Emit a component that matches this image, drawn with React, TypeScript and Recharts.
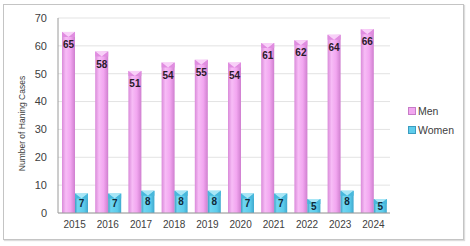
import React from "react";
import { BarChart, Bar, XAxis, YAxis, CartesianGrid, LabelList } from "recharts";

const years = ["2015", "2016", "2017", "2018", "2019", "2020", "2021", "2022", "2023", "2024"];
const men = [65, 58, 51, 54, 55, 54, 61, 62, 64, 66];
const women = [7, 7, 8, 8, 8, 7, 7, 5, 8, 5];
const yTicks = [0, 10, 20, 30, 40, 50, 60, 70];
const seriesNames = ["Men", "Women"];
const seriesColors = ["#f2a8f0", "#5fcdec"];
const yTitle = "Number of Haning Cases";

const data = years.map((y, i) => ({ year: y, Men: men[i], Women: women[i] }));

const makeShape = (gradId: string, capLight: string, capDark: string) => (props: any) => {
  const { x, y, width, height } = props;
  if (height <= 0) return null;
  const cap = Math.min(5, height);
  return (
    <g>
      <rect x={x} y={y} width={width} height={height} fill={`url(#${gradId})`} />
      <polygon
        points={`${x},${y} ${x + width},${y} ${x + width / 2},${y + cap}`}
        fill={capLight}
      />
      <polygon points={`${x},${y} ${x + width / 2},${y + cap} ${x},${y + cap}`} fill={capDark} />
      <polygon
        points={`${x + width},${y} ${x + width / 2},${y + cap} ${x + width},${y + cap}`}
        fill={capDark}
      />
    </g>
  );
};

const MenShape = makeShape("gMen", "#f8d0f8", "#e08ce0");
const WomenShape = makeShape("gWomen", "#a8e6f6", "#48b8dc");

const YTitle = (props: any) => {
  const vb = props.viewBox || {};
  const cx = 22;
  const cy = (vb.y ?? 18) + (vb.height ?? 195) / 2 + 8;
  return (
    <text
      x={cx}
      y={cy}
      transform={`rotate(-90, ${cx}, ${cy})`}
      textAnchor="middle"
      dominantBaseline="central"
      fontSize={8.5}
      fill="#404040"
    >
      {yTitle}
    </text>
  );
};

export default function App() {
  return (
    <div
      style={{
        position: "absolute",
        left: 0,
        top: 0,
        width: 470,
        height: 246,
        background: "#fff",
        fontFamily: "'Liberation Sans', Arial, sans-serif",
      }}
    >
      <div
        style={{
          position: "absolute",
          left: 3,
          top: 4,
          width: 459,
          height: 234,
          border: "1px solid #c4c4c4",
          boxShadow: "1px 1px 1px #dddddd",
        }}
      />
      <div style={{ position: "absolute", left: 0, top: 0 }}>
        <BarChart
          width={470}
          height={246}
          data={data}
          margin={{ top: 18, right: 80, bottom: 13, left: 0 }}
          barCategoryGap={4}
          barGap={0}
        >
          <defs>
            <linearGradient id="gMen" x1="0" y1="0" x2="1" y2="0">
              <stop offset="0%" stopColor="#d98ad9" />
              <stop offset="30%" stopColor="#f7bcf6" />
              <stop offset="65%" stopColor="#f2a6f0" />
              <stop offset="100%" stopColor="#cf7fcf" />
            </linearGradient>
            <linearGradient id="gWomen" x1="0" y1="0" x2="1" y2="0">
              <stop offset="0%" stopColor="#3d9ec2" />
              <stop offset="20%" stopColor="#6fd6f2" />
              <stop offset="70%" stopColor="#5ccbea" />
              <stop offset="100%" stopColor="#3fa9cf" />
            </linearGradient>
          </defs>
          <CartesianGrid vertical={false} stroke="#e3e3e3" />
          <XAxis
            dataKey="year"
            height={20}
            tickSize={0}
            tickMargin={8}
            axisLine={{ stroke: "#9a9a9a" }}
            tick={{ fontSize: 10, fill: "#404040" }}
            interval={0}
          />
          <YAxis
            width={58}
            domain={[0, 70]}
            ticks={yTicks}
            tickSize={0}
            tickMargin={11}
            axisLine={{ stroke: "#9a9a9a" }}
            tick={{ fontSize: 11, fill: "#404040" }}
            label={<YTitle />}
          />
          <Bar dataKey="Men" fill={seriesColors[0]} shape={MenShape} isAnimationActive={false}>
            <LabelList
              dataKey="Men"
              position="insideTop"
              offset={9}
              style={{ fontSize: 10, fontWeight: "bold", fill: "#2a1a2a" }}
            />
          </Bar>
          <Bar dataKey="Women" fill={seriesColors[1]} shape={WomenShape} isAnimationActive={false}>
            <LabelList
              dataKey="Women"
              position="center"
              style={{ fontSize: 10, fontWeight: "bold", fill: "#102a3a" }}
            />
          </Bar>
        </BarChart>
      </div>
      {seriesNames.map((name, i) => (
        <div
          key={name}
          style={{
            position: "absolute",
            left: 408,
            top: 105 + i * 19,
            display: "flex",
            alignItems: "center",
            fontSize: 10.5,
            color: "#404040",
          }}
        >
          <span
            style={{
              display: "inline-block",
              width: 6,
              height: 6,
              background: seriesColors[i],
              border: `1px solid ${i === 0 ? "#c77cc7" : "#3b9cc0"}`,
              marginRight: 2,
            }}
          />
          {name}
        </div>
      ))}
    </div>
  );
}
